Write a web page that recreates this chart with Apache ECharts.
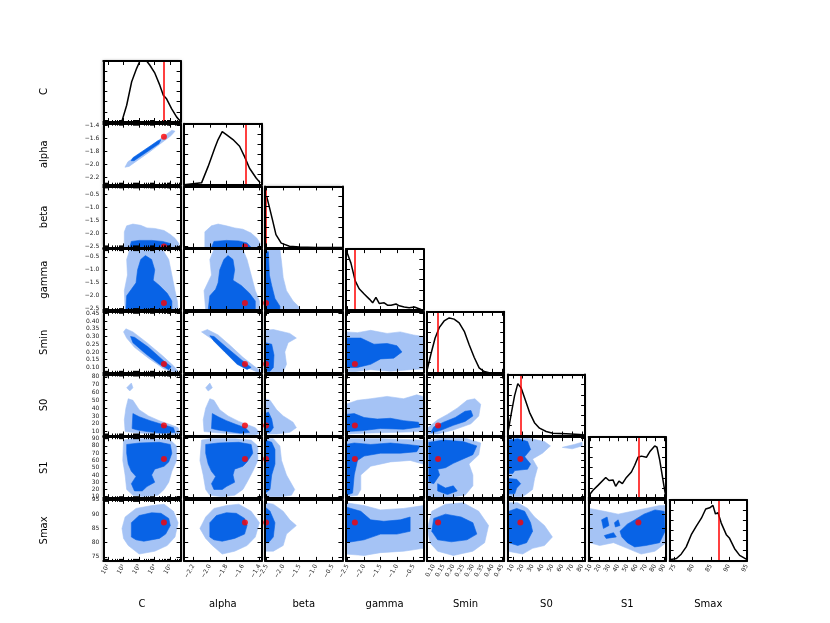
<!DOCTYPE html>
<html>
<head>
<meta charset="utf-8">
<script src="https://cdn.jsdelivr.net/npm/echarts@6/dist/echarts.min.js"></script>
<style>
html,body{margin:0;padding:0;background:#fff}
#chart{width:830px;height:623px}
</style>
</head>
<body>
<div id="chart"></div>
<script>
// parameters (C is shown on a log axis, values kept as log10 C)
var paramNames = ['C', 'alpha', 'beta', 'gamma', 'Smin', 'S0', 'S1', 'Smax'];
var axisMin = [0.7, -2.31, -2.55, -2.55, 0.065, 5, 8, 73.6];
var axisMax = [5.66, -1.375, -0.2, -0.2, 0.46, 83, 92, 95];
var truth = [4.59, -1.575, -2.52, -2.28, 0.122, 17.7, 62, 87.1];

var tickValues = [
  [1, 2, 3, 4, 5],
  [-2.2, -2.0, -1.8, -1.6, -1.4],
  [-2.5, -2.0, -1.5, -1.0, -0.5],
  [-2.5, -2.0, -1.5, -1.0, -0.5],
  [0.10, 0.15, 0.20, 0.25, 0.30, 0.35, 0.40, 0.45],
  [10, 20, 30, 40, 50, 60, 70, 80],
  [10, 20, 30, 40, 50, 60, 70, 80, 90],
  [75, 80, 85, 90, 95]
];
var tickLabels = [
  ['10¹', '10²', '10³', '10⁴', '10⁵'],
  ['−2.2', '−2.0', '−1.8', '−1.6', '−1.4'],
  ['−2.5', '−2.0', '−1.5', '−1.0', '−0.5'],
  ['−2.5', '−2.0', '−1.5', '−1.0', '−0.5'],
  ['0.10', '0.15', '0.20', '0.25', '0.30', '0.35', '0.40', '0.45'],
  ['10', '20', '30', '40', '50', '60', '70', '80'],
  ['10', '20', '30', '40', '50', '60', '70', '80', '90'],
  ['75', '80', '85', '90', '95']
];
var histTicks = [1 / 6, 2 / 6, 3 / 6, 4 / 6, 5 / 6];

// marginal densities (x, relative height)
var histC = [[1.88,0],[2.2,0.275],[2.52,0.66],[2.84,0.88],[3.05,1.0],[3.25,1.03],[3.48,1.0],[3.69,0.93],[4.01,0.8],[4.33,0.6],[4.55,0.44],[4.76,0.38],[5.08,0.22],[5.41,0.08],[5.66,0.01]];
var histAlpha = [[-2.31,0],[-2.1,0.03],[-2.02,0.3],[-1.94,0.6],[-1.9,0.74],[-1.85,0.87],[-1.8,0.82],[-1.72,0.74],[-1.64,0.63],[-1.58,0.46],[-1.52,0.27],[-1.44,0.11],[-1.39,0.03]];
var histBeta = [[-2.5,0.83],[-2.42,0.66],[-2.32,0.44],[-2.22,0.21],[-2.06,0.07],[-1.81,0.02],[-1.51,0.005],[-1.0,0],[-0.2,0]];
var histGamma = [[-2.53,0.96],[-2.4,0.77],[-2.27,0.48],[-2.15,0.35],[-1.99,0.26],[-1.84,0.18],[-1.74,0.12],[-1.64,0.21],[-1.54,0.11],[-1.39,0.12],[-1.29,0.08],[-1.18,0.08],[-1.03,0.1],[-0.93,0.07],[-0.78,0.05],[-0.63,0.04],[-0.47,0.05],[-0.37,0.03],[-0.27,0.01]];
var histSmin = [[0.065,0.03],[0.085,0.3],[0.107,0.57],[0.128,0.74],[0.153,0.85],[0.179,0.9],[0.204,0.88],[0.23,0.82],[0.256,0.68],[0.281,0.46],[0.307,0.25],[0.332,0.08],[0.358,0.02],[0.383,0]];
var histS0 = [[5,0.03],[8.4,0.35],[11.8,0.65],[15.1,0.85],[18.5,0.78],[21.9,0.62],[26.9,0.38],[31.9,0.21],[37,0.12],[43.7,0.065],[50.4,0.037],[63.9,0.027],[77.3,0.016],[83,0.01]];
var histS1 = [[8.3,0.045],[12.7,0.13],[18.1,0.21],[26.5,0.34],[30.1,0.29],[34.4,0.3],[37.3,0.195],[40.9,0.28],[44.6,0.24],[49,0.34],[54.4,0.43],[58,0.54],[61.6,0.67],[65.3,0.69],[70.7,0.67],[74.3,0.76],[79.7,0.857],[82.2,0.835],[85.2,0.625],[88.8,0.29],[91.7,0.03]];
var histSmax = [[73.6,0.02],[75.5,0.04],[76.8,0.11],[78.2,0.23],[79.6,0.43],[81,0.57],[82.4,0.7],[83.6,0.85],[84.7,0.87],[85.6,0.91],[86.3,0.77],[87,0.79],[87.9,0.62],[89.3,0.43],[90.2,0.37],[91.6,0.2],[93,0.09],[94.8,0.03]];

// 2D credible regions: outer (light) and inner (dark) outlines, [x, y]
var lightAlphaC = [[2.09,-2.042],[2.28,-1.958],[3.69,-1.728],[5.1,-1.474],[5.3,-1.49],[5.04,-1.559],[3.69,-1.804],[2.35,-2.03]];
var darkAlphaC = [[2.48,-1.942],[2.6,-1.896],[4.21,-1.636],[4.4,-1.62],[4.27,-1.682],[2.67,-1.942]];

var lightBetaC = [[2.05,-2.55],[2.05,-1.95],[2.2,-1.72],[2.6,-1.65],[3.1,-1.7],[3.5,-1.8],[4.0,-1.82],[4.6,-1.9],[5.0,-2.05],[5.3,-2.2],[5.55,-2.4],[5.55,-2.55]];
var darkBetaC = [[2.4,-2.55],[2.5,-2.32],[3.0,-2.28],[3.8,-2.28],[4.5,-2.32],[5.0,-2.4],[5.0,-2.55]];
var lightBetaAlpha = [[-2.06,-2.55],[-2.06,-1.95],[-1.98,-1.72],[-1.9,-1.65],[-1.8,-1.72],[-1.7,-1.8],[-1.6,-1.85],[-1.5,-2.0],[-1.43,-2.2],[-1.39,-2.4],[-1.39,-2.55]];
var darkBetaAlpha = [[-1.98,-2.55],[-1.95,-2.32],[-1.8,-2.28],[-1.65,-2.3],[-1.55,-2.38],[-1.5,-2.55]];

var lightGammaC = [[2.1,-2.55],[2.05,-1.8],[2.25,-1.2],[2.2,-0.6],[2.4,-0.22],[4.5,-0.22],[4.9,-0.6],[5.1,-1.2],[5.3,-1.8],[5.45,-2.2],[5.5,-2.55]];
var darkGammaC = [[2.15,-2.55],[2.2,-2.0],[2.5,-1.75],[2.8,-1.5],[2.9,-1.0],[3.1,-0.6],[3.4,-0.45],[3.8,-0.6],[4.0,-1.0],[3.9,-1.4],[4.3,-1.6],[4.8,-1.9],[5.1,-2.2],[5.1,-2.55]];
var lightGammaAlpha = [[-2.05,-2.55],[-2.07,-1.8],[-1.98,-1.2],[-2.0,-0.6],[-1.95,-0.22],[-1.6,-0.22],[-1.55,-0.6],[-1.5,-1.2],[-1.45,-1.8],[-1.4,-2.2],[-1.4,-2.55]];
var darkGammaAlpha = [[-2.02,-2.55],[-2.0,-2.0],[-1.93,-1.75],[-1.9,-1.5],[-1.88,-1.0],[-1.83,-0.6],[-1.78,-0.45],[-1.72,-0.6],[-1.7,-1.0],[-1.72,-1.4],[-1.62,-1.6],[-1.52,-1.9],[-1.45,-2.2],[-1.45,-2.55]];
var lightGammaBeta = [[-2.55,-2.55],[-2.55,-0.2],[-2.1,-0.2],[-2.05,-0.7],[-2.0,-1.3],[-1.9,-1.8],[-1.7,-2.2],[-1.5,-2.45],[-1.5,-2.55]];
var darkGammaBeta = [[-2.55,-2.55],[-2.55,-0.3],[-2.45,-0.3],[-2.42,-1.2],[-2.35,-1.6],[-2.25,-2.1],[-2.1,-2.4],[-2.1,-2.55]];

var lightSminC = [[2.0,0.33],[2.15,0.35],[2.6,0.33],[3.5,0.26],[4.5,0.175],[5.2,0.11],[5.5,0.075],[5.3,0.068],[4.6,0.09],[3.6,0.16],[2.7,0.23],[2.2,0.29]];
var darkSminC = [[2.45,0.3],[2.7,0.295],[3.6,0.23],[4.6,0.14],[5.05,0.105],[4.9,0.085],[4.3,0.12],[3.4,0.19],[2.6,0.26]];
var lightSminAlpha = [[-2.1,0.33],[-2.03,0.345],[-1.9,0.31],[-1.75,0.24],[-1.6,0.165],[-1.47,0.11],[-1.38,0.075],[-1.42,0.068],[-1.55,0.1],[-1.72,0.18],[-1.88,0.25],[-2.02,0.3]];
var darkSminAlpha = [[-2.0,0.305],[-1.95,0.3],[-1.8,0.23],[-1.62,0.15],[-1.5,0.1],[-1.55,0.087],[-1.67,0.12],[-1.82,0.2],[-1.95,0.27]];
var lightSminBeta = [[-2.55,0.065],[-2.55,0.34],[-2.3,0.345],[-1.8,0.32],[-1.6,0.29],[-1.85,0.26],[-1.95,0.2],[-1.9,0.12],[-2.0,0.07],[-2.0,0.065]];
var darkSminBeta = [[-2.55,0.075],[-2.55,0.26],[-2.35,0.25],[-2.28,0.18],[-2.3,0.1],[-2.4,0.075]];
var lightSminGamma = [[-2.55,0.075],[-2.55,0.33],[-2.2,0.325],[-1.8,0.34],[-1.3,0.32],[-0.9,0.33],[-0.5,0.31],[-0.2,0.3],[-0.2,0.09],[-0.6,0.085],[-1.2,0.075],[-1.8,0.085],[-2.3,0.072]];
var darkSminGamma = [[-2.55,0.1],[-2.55,0.29],[-2.1,0.29],[-1.7,0.25],[-1.3,0.255],[-1.0,0.24],[-0.85,0.2],[-1.1,0.16],[-1.5,0.155],[-1.8,0.12],[-2.2,0.1]];

var lightS0C = [[2.1,10],[2.05,25],[2.15,40],[2.3,52],[2.6,50],[3.0,38],[3.6,30],[4.4,23],[5.0,19],[5.5,15],[5.6,8],[5.2,6],[4.0,7],[2.8,8.5]];
var lightS0Cspot = [[2.2,66],[2.5,72],[2.6,66],[2.4,62]];
var darkS0C = [[2.55,14],[2.6,33],[3.0,29],[3.7,24],[4.5,19],[5.2,15],[5.3,9],[4.5,8],[3.5,10],[2.9,12]];
var lightS0Alpha = [[-2.07,10],[-2.08,25],[-2.05,40],[-2.0,52],[-1.95,50],[-1.88,38],[-1.78,30],[-1.65,23],[-1.55,19],[-1.45,15],[-1.39,8],[-1.45,6],[-1.68,7],[-1.92,8.5]];
var lightS0AlphaSpot = [[-2.05,66],[-2.0,72],[-1.97,66],[-2.02,62]];
var darkS0Alpha = [[-1.98,14],[-1.97,33],[-1.9,29],[-1.8,24],[-1.68,19],[-1.57,15],[-1.52,9],[-1.63,8],[-1.78,10],[-1.9,12]];
var lightS0Beta = [[-2.55,7],[-2.55,52],[-2.4,50],[-2.2,38],[-2.0,30],[-1.7,22],[-1.6,15],[-1.8,9],[-2.2,7]];
var darkS0Beta = [[-2.55,9],[-2.55,33],[-2.45,35],[-2.35,26],[-2.3,15],[-2.4,9]];
var lightS0Gamma = [[-2.55,7],[-2.55,45],[-2.2,50],[-1.8,52],[-1.3,55],[-0.8,52],[-0.4,57],[-0.2,55],[-0.2,10],[-1.0,9],[-2.0,8]];
var darkS0Gamma = [[-2.55,10],[-2.55,32],[-2.3,33],[-2.0,28],[-1.6,26],[-1.2,27],[-0.8,24],[-0.35,22],[-0.3,16],[-0.8,13],[-1.5,14],[-2.1,11]];
var lightS0Smin = [[0.07,7],[0.07,15],[0.12,25],[0.17,32],[0.22,40],[0.27,50],[0.31,52],[0.34,45],[0.33,30],[0.29,20],[0.2,12],[0.12,7]];
var darkS0Smin = [[0.085,9],[0.1,16],[0.15,22],[0.21,28],[0.26,36],[0.29,37],[0.3,30],[0.26,23],[0.2,18],[0.14,12],[0.1,9]];

var lightS1C = [[2.0,88],[2.5,90],[4.0,90],[5.0,88],[5.4,80],[5.4,60],[5.1,45],[4.9,30],[4.6,20],[4.2,12],[3.3,10],[2.6,12],[2.2,20],[2.1,40],[1.95,60]];
var darkS1C = [[2.2,82],[3.0,84],[4.3,85],[5.0,82],[5.1,70],[4.9,58],[4.6,52],[4.0,48],[3.8,40],[4.0,30],[3.5,24],[3.2,18],[2.7,18],[2.5,28],[2.8,38],[2.5,45],[2.3,55],[2.2,70]];
var lightS1Alpha = [[-2.1,88],[-2.0,90],[-1.7,90],[-1.5,88],[-1.42,80],[-1.42,60],[-1.48,45],[-1.55,30],[-1.6,20],[-1.7,12],[-1.85,10],[-2.0,12],[-2.05,20],[-2.08,40],[-2.12,60]];
var darkS1Alpha = [[-2.05,82],[-1.9,84],[-1.65,85],[-1.5,82],[-1.48,70],[-1.55,58],[-1.6,52],[-1.7,48],[-1.72,40],[-1.7,30],[-1.8,24],[-1.85,20],[-1.95,20],[-1.98,28],[-1.93,38],[-1.98,45],[-2.02,55],[-2.05,70]];
var lightS1Beta = [[-2.55,10],[-2.55,90],[-2.3,90],[-2.1,80],[-2.05,60],[-1.9,40],[-1.65,20],[-1.75,12],[-2.1,10]];
var darkS1Beta = [[-2.55,15],[-2.55,88],[-2.35,85],[-2.25,75],[-2.25,55],[-2.35,40],[-2.4,20]];
var lightS1Gamma = [[-2.55,10],[-2.55,90],[-1.5,90],[-0.2,88],[-0.2,55],[-0.6,60],[-1.2,58],[-1.8,52],[-2.1,40],[-2.1,20],[-2.2,12]];
var darkS1Gamma = [[-2.55,12],[-2.55,82],[-2.3,84],[-1.8,82],[-1.2,84],[-0.7,82],[-0.3,80],[-0.4,72],[-0.9,70],[-1.5,70],[-2.0,66],[-2.2,60],[-2.3,40],[-2.35,15]];
var lightS1Smin = [[0.07,10],[0.07,88],[0.15,91],[0.27,90],[0.34,84],[0.33,68],[0.28,55],[0.3,40],[0.3,25],[0.26,12],[0.17,9]];
var darkS1Smin = [[0.075,30],[0.075,85],[0.15,88],[0.25,86],[0.32,80],[0.3,68],[0.25,62],[0.2,56],[0.16,50],[0.12,48],[0.13,40],[0.1,28]];
var darkS1SminLobe = [[0.12,28],[0.16,22],[0.2,25],[0.22,18],[0.17,13],[0.12,18]];
var lightS1S0 = [[5,10],[5,90],[25,91],[42,86],[48,80],[40,70],[30,62],[35,50],[32,35],[30,20],[20,10]];
var lightS1S0Spot = [[60,78],[72,82],[80,85],[80,80],[70,76]];
var darkS1S0 = [[6,42],[6,88],[15,90],[25,86],[28,75],[22,65],[28,55],[25,48],[12,46],[10,42]];
var darkS1S0Low = [[6,14],[6,35],[14,34],[18,28],[14,22],[12,14]];

var lightSmaxC = [[1.9,85],[2.1,89],[2.8,92],[3.8,93],[4.6,93.5],[5.2,91],[5.5,87],[5.3,82],[4.8,79],[4.0,77],[3.0,76],[2.3,79],[2.0,81.5]];
var darkSmaxC = [[2.5,82],[2.5,87],[3.0,89.5],[3.8,90.5],[4.4,90.3],[4.9,88.5],[5.0,86],[4.7,83],[4.3,81.5],[3.3,80.5],[2.8,81]];
var lightSmaxAlpha = [[-2.12,85],[-2.05,89],[-1.95,92],[-1.8,93],[-1.65,93.5],[-1.5,91],[-1.4,87],[-1.45,82],[-1.55,79],[-1.7,77],[-1.85,76],[-1.97,79],[-2.05,81.5]];
var darkSmaxAlpha = [[-2.0,82],[-2.0,87],[-1.92,89.5],[-1.8,90.5],[-1.68,90.3],[-1.58,88.5],[-1.55,86],[-1.58,83],[-1.7,81.5],[-1.85,80.5],[-1.95,81]];
var lightSmaxBeta = [[-2.55,77],[-2.55,94],[-2.3,93.5],[-2.0,91],[-1.8,88],[-1.6,86],[-1.9,83],[-2.0,79],[-2.3,77]];
var darkSmaxBeta = [[-2.55,80],[-2.55,92.5],[-2.4,91],[-2.25,87],[-2.3,82],[-2.45,80]];
var lightSmaxGamma = [[-2.55,76],[-2.55,94],[-2.0,93],[-1.5,91.5],[-0.8,92],[-0.2,93],[-0.2,78],[-0.8,77],[-1.5,76.5],[-2.0,75.5]];
var darkSmaxGamma = [[-2.55,80],[-2.55,92.5],[-2.1,91],[-1.8,88],[-1.4,87.5],[-0.9,88],[-0.6,89],[-0.6,84],[-1.0,83],[-1.5,83],[-2.0,81]];
var lightSmaxSmin = [[0.068,85],[0.09,91],[0.16,93.5],[0.25,94],[0.33,91],[0.38,86],[0.36,80],[0.3,77],[0.2,75.5],[0.12,77],[0.08,80]];
var darkSmaxSmin = [[0.09,84],[0.1,88.5],[0.16,90],[0.24,89],[0.3,87],[0.32,83],[0.27,81],[0.19,80.3],[0.12,81]];
var lightSmaxS0 = [[5,77],[5,94],[15,94],[25,92],[32,89],[42,86],[50,82],[42,79],[30,78],[20,76]];
var darkSmaxS0 = [[6,80],[6,91],[14,92],[22,91],[28,87],[30,84],[24,80],[15,79]];
var lightSmaxS1 = [[9,80],[9,92],[25,91],[40,90],[55,91],[70,92],[85,93],[92,93],[92,80],[80,77],[65,76],[50,78],[35,80],[20,79]];
var darkSmaxS1 = [[42,84],[50,86.5],[58,88],[68,90],[80,91.5],[90,91],[91,84],[85,80],[70,79],[58,78.5],[50,80],[44,82]];
var darkSmaxS1Isl1 = [[22,88],[28,89],[30,86],[24,85]];
var darkSmaxS1Isl2 = [[25,82.5],[35,83.5],[38,82],[27,81.5]];
var darkSmaxS1Isl3 = [[36,87],[40,88],[42,86],[37,85.5]];

var hists = [histC, histAlpha, histBeta, histGamma, histSmin, histS0, histS1, histSmax];
// panel table: key "row,col" -> region outlines
var regions = {
  '1,0': [[lightAlphaC], [darkAlphaC]],
  '2,0': [[lightBetaC], [darkBetaC]],
  '2,1': [[lightBetaAlpha], [darkBetaAlpha]],
  '3,0': [[lightGammaC], [darkGammaC]],
  '3,1': [[lightGammaAlpha], [darkGammaAlpha]],
  '3,2': [[lightGammaBeta], [darkGammaBeta]],
  '4,0': [[lightSminC], [darkSminC]],
  '4,1': [[lightSminAlpha], [darkSminAlpha]],
  '4,2': [[lightSminBeta], [darkSminBeta]],
  '4,3': [[lightSminGamma], [darkSminGamma]],
  '5,0': [[lightS0C, lightS0Cspot], [darkS0C]],
  '5,1': [[lightS0Alpha, lightS0AlphaSpot], [darkS0Alpha]],
  '5,2': [[lightS0Beta], [darkS0Beta]],
  '5,3': [[lightS0Gamma], [darkS0Gamma]],
  '5,4': [[lightS0Smin], [darkS0Smin]],
  '6,0': [[lightS1C], [darkS1C]],
  '6,1': [[lightS1Alpha], [darkS1Alpha]],
  '6,2': [[lightS1Beta], [darkS1Beta]],
  '6,3': [[lightS1Gamma], [darkS1Gamma]],
  '6,4': [[lightS1Smin], [darkS1Smin, darkS1SminLobe]],
  '6,5': [[lightS1S0, lightS1S0Spot], [darkS1S0, darkS1S0Low]],
  '7,0': [[lightSmaxC], [darkSmaxC]],
  '7,1': [[lightSmaxAlpha], [darkSmaxAlpha]],
  '7,2': [[lightSmaxBeta], [darkSmaxBeta]],
  '7,3': [[lightSmaxGamma], [darkSmaxGamma]],
  '7,4': [[lightSmaxSmin], [darkSmaxSmin]],
  '7,5': [[lightSmaxS0], [darkSmaxS0]],
  '7,6': [[lightSmaxS1], [darkSmaxS1, darkSmaxS1Isl1, darkSmaxS1Isl2, darkSmaxS1Isl3]]
};

// log minor ticks for C
var minorC = [];
for (var n = 0; n <= 5; n++) {
  for (var k = 2; k <= 9; k++) {
    var lv = n + Math.log10(k);
    if (lv > axisMin[0] + 0.01 && lv < axisMax[0] - 0.01) minorC.push(lv);
  }
}

var LIGHT = '#a5c3f5', DARK = '#0863e6';
var FONT = 'DejaVu Sans';
var LEFT0 = 103.3, DX = 80.9, TOP0 = 61, DY = 62.7, PW = 77.3, PH = 61;

function labelFor(i, v) {
  var t = tickValues[i];
  for (var j = 0; j < t.length; j++) if (Math.abs(t[j] - v) < 1e-9) return tickLabels[i][j];
  return '';
}

var grids = [], xAxes = [], yAxes = [], series = [];

function frameLine() {
  return { show: true, onZero: false, lineStyle: { color: '#000', width: 2 } };
}
function ticks(vals, len) {
  return { show: true, inside: true, length: len, customValues: vals, lineStyle: { color: '#000', width: 1 } };
}

function polySeries(xi, yi, polys, color) {
  return {
    type: 'custom', xAxisIndex: xi, yAxisIndex: yi, clip: true, silent: true, z: 1,
    data: polys.map(function (p, i) { return [i]; }),
    renderItem: function (params, api) {
      var pts = polys[params.dataIndex].map(function (pt) { return api.coord(pt); });
      return { type: 'polygon', shape: { points: pts }, style: { fill: color, stroke: color, lineWidth: 0.6 } };
    }
  };
}

for (var r = 0; r < 8; r++) {
  for (var c = 0; c <= r; c++) {
    var gi = grids.length;
    grids.push({
      left: LEFT0 + DX * c, top: TOP0 + DY * r, width: PW, height: PH,
      show: true, borderWidth: 0, backgroundColor: '#fff',
      shadowColor: 'rgba(0,0,0,0.55)', shadowBlur: 3
    });
    var diag = (r === c);
    var xi = xAxes.length;
    (function (c, r) {
      xAxes.push({
        gridIndex: gi, type: 'value', min: axisMin[c], max: axisMax[c], position: 'bottom', z: 5,
        axisLine: frameLine(), axisTick: ticks(tickValues[c], 4), splitLine: { show: false },
        axisLabel: r === 7 ? {
          show: true, customValues: tickValues[c], rotate: 60, fontSize: 6, color: '#222',
          fontFamily: FONT, margin: 4, formatter: function (v) { return labelFor(c, v); }
        } : { show: false },
        name: r === 7 ? paramNames[c] : '', nameLocation: 'middle', nameGap: 39,
        nameTextStyle: { fontSize: 10, color: '#000', fontFamily: FONT }
      });
    })(c, r);
    xAxes.push({
      gridIndex: gi, type: 'value', min: axisMin[c], max: axisMax[c], position: 'top', z: 5,
      axisLine: frameLine(), axisTick: ticks(tickValues[c], 4), axisLabel: { show: false }, splitLine: { show: false }
    });
    if (c === 0) {
      ['bottom', 'top'].forEach(function (pos) {
        xAxes.push({
          gridIndex: gi, type: 'value', min: axisMin[0], max: axisMax[0], position: pos, z: 5,
          axisLine: { show: false }, axisTick: ticks(minorC, 2), axisLabel: { show: false }, splitLine: { show: false }
        });
      });
    }
    var yi = yAxes.length;
    var ymin = diag ? 0 : axisMin[r], ymax = diag ? 1 : axisMax[r];
    var yt = diag ? histTicks : tickValues[r];
    (function (c, r) {
      yAxes.push({
        gridIndex: gi, type: 'value', min: ymin, max: ymax, position: 'left', z: 5,
        axisLine: frameLine(), axisTick: ticks(yt, 4), splitLine: { show: false },
        axisLabel: (c === 0 && r > 0) ? {
          show: true, customValues: tickValues[r], fontSize: 6, color: '#222', fontFamily: FONT, margin: 4,
          formatter: function (v) { return labelFor(r, v); }
        } : { show: false },
        name: c === 0 ? paramNames[r] : '', nameLocation: 'middle', nameGap: 54, nameRotate: 90,
        nameTextStyle: { fontSize: 10, color: '#000', fontFamily: FONT }
      });
    })(c, r);
    yAxes.push({
      gridIndex: gi, type: 'value', min: ymin, max: ymax, position: 'right', z: 5,
      axisLine: frameLine(), axisTick: ticks(yt, 4), axisLabel: { show: false }, splitLine: { show: false }
    });

    if (diag) {
      series.push({
        type: 'line', xAxisIndex: xi, yAxisIndex: yi, data: hists[r], showSymbol: false, clip: true, z: 3,
        lineStyle: { color: '#000', width: 1.5 },
        markLine: {
          silent: true, symbol: 'none', label: { show: false },
          lineStyle: { color: '#ff0000', width: 1.5, type: 'solid' },
          data: [{ xAxis: truth[c] }]
        }
      });
    } else {
      var reg = regions[r + ',' + c];
      series.push(polySeries(xi, yi, reg[0], LIGHT));
      series.push(polySeries(xi, yi, reg[1], DARK));
      series.push({
        type: 'scatter', xAxisIndex: xi, yAxisIndex: yi, symbolSize: 6, z: 4, silent: true,
        itemStyle: { color: '#ff0000' }, data: [[truth[c], truth[r]]]
      });
    }
  }
}

var chart = echarts.init(document.getElementById('chart'));
chart.setOption({
  backgroundColor: '#fff',
  animation: false,
  grid: grids,
  xAxis: xAxes,
  yAxis: yAxes,
  series: series
});
</script>
</body>
</html>
